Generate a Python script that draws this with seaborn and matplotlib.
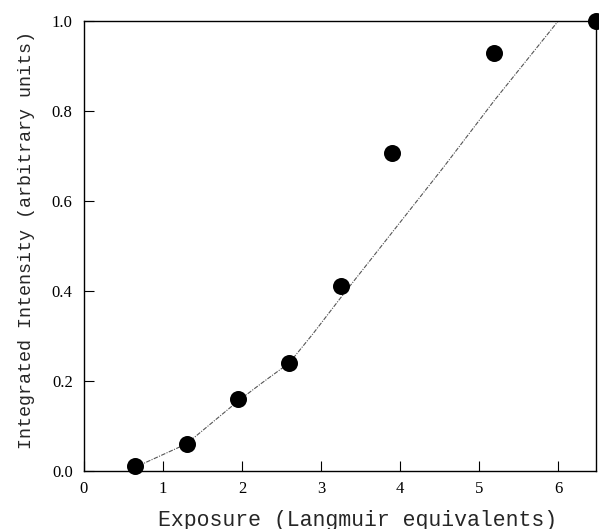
import matplotlib
matplotlib.use("Agg")
import matplotlib.pyplot as plt
import seaborn as sns
import pandas as pd

# Measured data points
exposure = [0.65, 1.30, 1.95, 2.60, 3.25, 3.90, 5.19, 6.48]
intensity = [0.01, 0.06, 0.16, 0.24, 0.41, 0.707, 0.93, 1.00]

# Fitted curve
fit_x = [0.62, 0.65, 1.30, 1.95, 2.25, 2.60, 2.90, 3.25, 3.90, 4.55, 5.20, 6.00]
fit_y = [0.0, 0.008, 0.06, 0.155, 0.195, 0.24, 0.305, 0.385, 0.53, 0.675, 0.825, 1.0]

xticks = [0, 1, 2, 3, 4, 5, 6]
yticks = [0.0, 0.2, 0.4, 0.6, 0.8, 1.0]
ytick_labels = ["0.0", "0.2", "0.4", "0.6", "0.8", "1.0"]

sns.set_style("ticks")
plt.rcParams['font.family'] = ['Liberation Mono', 'DejaVu Sans Mono']

fig = plt.figure(figsize=(5.99, 5.29), dpi=100)
ax = fig.add_axes([0.140, 0.110, 0.855, 0.850])

pts = pd.DataFrame({"x": exposure, "y": intensity})
fit = pd.DataFrame({"x": fit_x, "y": fit_y})

sns.lineplot(data=fit, x="x", y="y", ax=ax, color="#555555", lw=0.8,
             linestyle=(0, (4, 1.2, 1, 1.2)), sort=False, zorder=2)
sns.scatterplot(data=pts, x="x", y="y", ax=ax, color="black", s=150,
                edgecolor="black", linewidth=0, zorder=3, clip_on=False)

ax.set_xlim(0, 6.48)
ax.set_ylim(0, 1.0)
ax.set_xticks(xticks)
ax.set_yticks(yticks)
ax.set_yticklabels(ytick_labels)
ax.tick_params(direction="in", length=7, width=0.8, colors="black")
for lab in ax.get_xticklabels() + ax.get_yticklabels():
    lab.set_family(['Liberation Serif', 'DejaVu Serif'])
    lab.set_fontsize(12)
ax.tick_params(axis="x", pad=7)
ax.tick_params(axis="y", pad=8)
for s in ax.spines.values():
    s.set_visible(True)
    s.set_linewidth(1.0)
    s.set_color("black")

ax.set_xlabel("Exposure (Langmuir equivalents)", fontsize=15.5)
ax.set_ylabel("Integrated Intensity (arbitrary units)", fontsize=13.2)
ax.xaxis.set_label_coords(0.535, -0.088)
ax.yaxis.set_label_coords(-0.095, 0.513)

fig.savefig("out.png", dpi=100, facecolor="white")
